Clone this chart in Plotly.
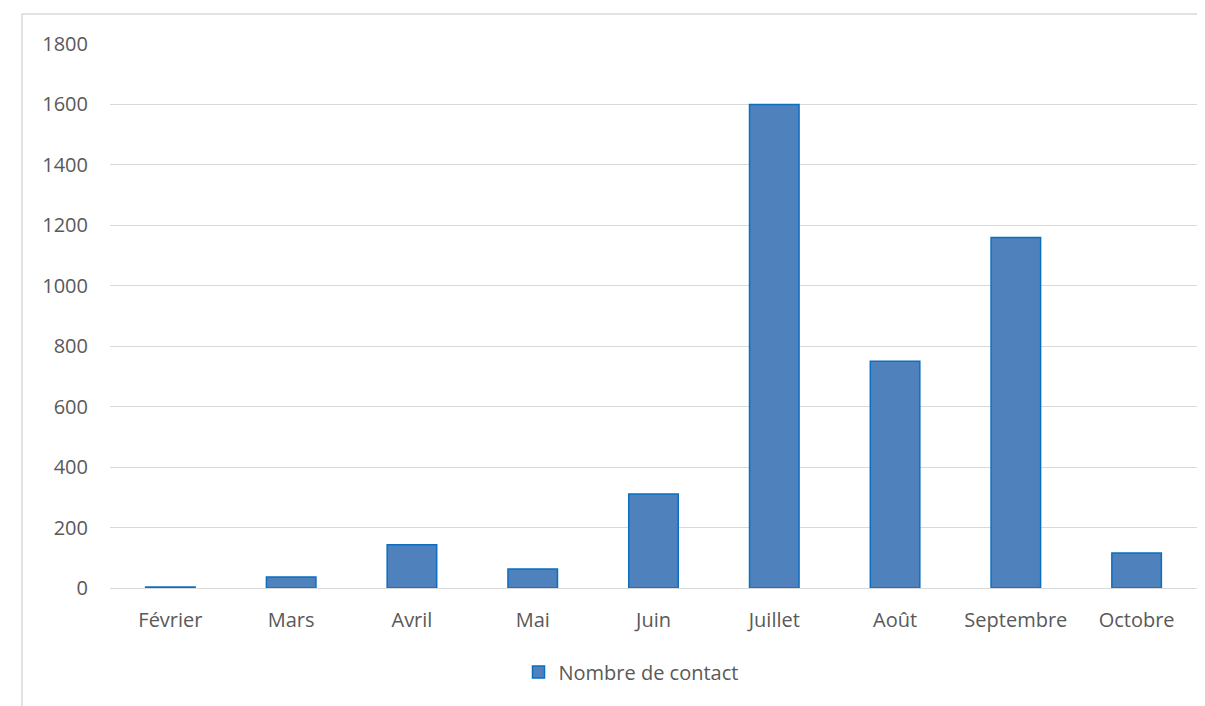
import plotly.graph_objects as go

months = ["Février", "Mars", "Avril", "Mai", "Juin", "Juillet", "Août", "Septembre", "Octobre"]
contacts = [3, 36, 143, 63, 311, 1600, 750, 1160, 116]
series_name = "Nombre de contact"
y_ticks = [0, 200, 400, 600, 800, 1000, 1200, 1400, 1600, 1800]

OFF = 8  # page body margin
W, H = 1205 - OFF, 706 - OFF
# plot area in page pixels: x 110..1197, y 44..588
L, R, T, B = 110 - OFF, (1205 - OFF) - (1197 - OFF), 44 - OFF, H - (588 - OFF)
pw, ph = W - L - R, H - T - B

def px_x(x):
    return (x - OFF - L) / pw

def px_y(y):
    return (H - B - (y - OFF)) / ph

FONT = "Open Sans, Lato, sans-serif"
FS = 20
TXT = "#595959"

fig = go.Figure()
fig.add_trace(go.Bar(
    x=months, y=contacts, name=series_name,
    marker=dict(color="#4F81BD", line=dict(color="#0A6FC2", width=1.5)),
    showlegend=True,
))

fig.update_layout(
    width=W, height=H,
    margin=dict(l=L, r=R, t=T, b=B),
    paper_bgcolor="white", plot_bgcolor="white",
    bargap=0.59,
    font=dict(family=FONT, size=FS, color=TXT),
    xaxis=dict(showgrid=False, showline=False, ticks="", ticklabelstandoff=18,
               tickfont=dict(family=FONT, size=FS, color=TXT)),
    yaxis=dict(range=[0, 1800], tickvals=y_ticks, showgrid=True, gridcolor="#D9D9D9", gridwidth=1,
               zeroline=True, zerolinecolor="#D9D9D9", zerolinewidth=1, showline=False, ticks="",
               ticklabelstandoff=21, tickfont=dict(family=FONT, size=FS, color=TXT)),
    legend=dict(orientation="h", x=px_x(631), xanchor="center", y=px_y(672), yanchor="middle",
                font=dict(family=FONT, size=FS, color=TXT), bgcolor="rgba(0,0,0,0)",
                itemwidth=30),
    shapes=[dict(type="rect", xref="paper", yref="paper",
                 x0=px_x(22), x1=px_x(1215), y0=px_y(720), y1=px_y(14),
                 line=dict(color="#D9D9D9", width=1.5), fillcolor="rgba(0,0,0,0)", layer="below")],
)

fig.write_html("out.html")
